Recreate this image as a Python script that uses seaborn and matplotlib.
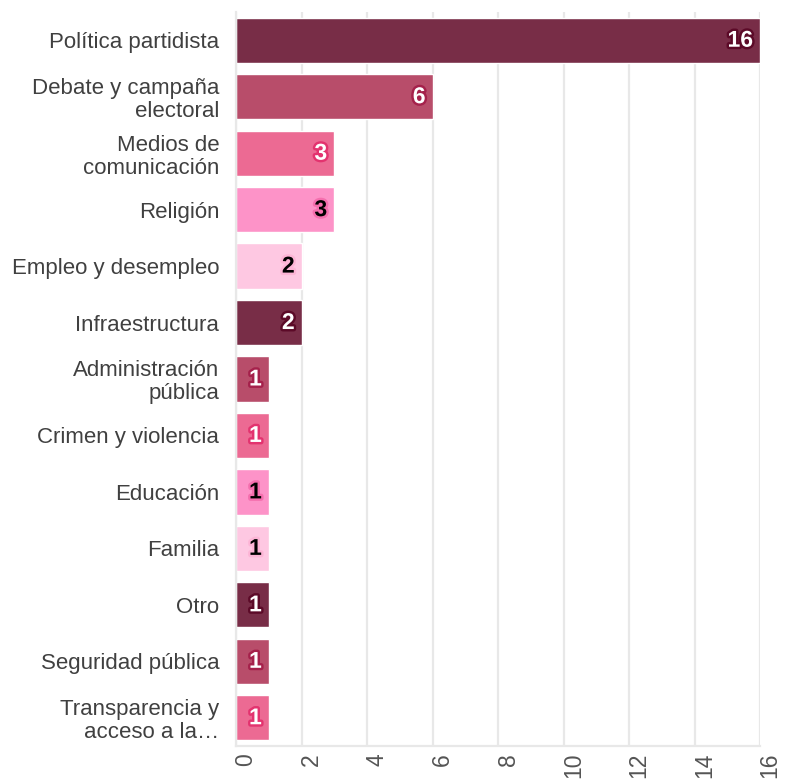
import matplotlib
import matplotlib.pyplot as plt
import matplotlib.patheffects as pe
import matplotlib.transforms as mtransforms
import pandas as pd
import seaborn as sns

matplotlib.use('Agg')

# data
categorias = ['Política partidista', 'Debate y campaña\nelectoral', 'Medios de\ncomunicación',
              'Religión', 'Empleo y desempleo', 'Infraestructura', 'Administración\npública',
              'Crimen y violencia', 'Educación', 'Familia', 'Otro', 'Seguridad pública',
              'Transparencia y\nacceso a la…']
valores = [16, 6, 3, 3, 2, 2, 1, 1, 1, 1, 1, 1, 1]
xticks = [0, 2, 4, 6, 8, 10, 12, 14, 16]

# colours cycle every 5 bars
paleta = ['#782D47', '#B84D6A', '#EC6A93', '#FD93C8', '#FEC8E2']
texto_color = ['white', 'white', 'white', 'black', 'black']
borde_color = ['#5C0A28', '#A5214B', '#E3336F', '#F56FAE', '#FDB5D6']

df = pd.DataFrame({'categoria': categorias, 'valor': valores})
colores = [paleta[i % 5] for i in range(len(df))]

sns.set_style('white')
plt.rcParams['font.family'] = ['Liberation Sans', 'DejaVu Sans']

fig = plt.figure(figsize=(7.85, 7.83), dpi=100)
ax = fig.add_axes([236 / 785, 1 - 746 / 783, 524 / 785, (746 - 12) / 783])

sns.barplot(data=df, x='valor', y='categoria', hue='categoria', palette=colores,
            legend=False, width=0.8, saturation=1, ax=ax)

# value labels
for i, v in enumerate(valores):
    k = i % 5
    ax.annotate(str(v), xy=(v, i), xytext=(-5, 0), textcoords='offset points',
                ha='right', va='center', fontsize=16.5, fontweight='bold',
                color=texto_color[k],
                path_effects=[pe.withStroke(linewidth=3.5, foreground=borde_color[k])])

ax.set_xlim(0, 16)
ax.set_ylim(12.5, -0.5)
ax.set_xticks(xticks)
ax.set_xticklabels([str(t) for t in xticks], rotation=90, va='top', ha='center')
ax.set_xlabel('')
ax.set_ylabel('')

ax.grid(axis='x', color='#E8E8E8', linewidth=1.6)
ax.set_axisbelow(True)
for s in ['top', 'right']:
    ax.spines[s].set_visible(False)
ax.spines['left'].set_color('#E8E8E8')
ax.spines['left'].set_linewidth(1.6)
ax.spines['bottom'].set_color('#E8E8E8')
ax.spines['bottom'].set_linewidth(1.6)

ax.tick_params(axis='x', length=27, width=1.6, color='#E8E8E8', pad=-22,
               labelsize=16.5, labelcolor='#555555')
ax.tick_params(axis='y', length=6, width=1, color='#CCCCCC', pad=6,
               labelsize=16, labelcolor='#404040')
for lab in ax.get_yticklabels():
    lab.set_multialignment('right')
    lab.set_linespacing(1.12)

offset = mtransforms.ScaledTranslation(10 / 100, 0, fig.dpi_scale_trans)
for lab in ax.get_xticklabels():
    lab.set_transform(lab.get_transform() + offset)

fig.savefig('out.png', dpi=100)
